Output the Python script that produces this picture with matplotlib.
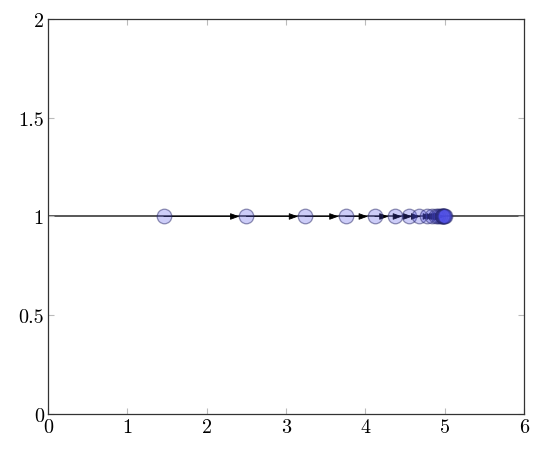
import matplotlib
matplotlib.use("Agg")
import matplotlib.pyplot as plt

plt.rcParams['font.family'] = 'serif'
plt.rcParams['font.serif'] = ['cmr10', 'DejaVu Serif']
plt.rcParams['axes.formatter.use_mathtext'] = True

# iterates of the optimisation (all at y = 1)
x_vals = [1.46, 2.50, 3.24, 3.75, 4.12, 4.38, 4.55, 4.68, 4.78, 4.84,
          4.89, 4.92, 4.94, 4.96, 4.97, 4.98, 4.985, 4.99, 4.995, 5.00]
y_vals = [1.0] * len(x_vals)
line_x = [0, 6]
line_y = [1, 1]
x_ticks = [0, 1, 2, 3, 4, 5, 6]
y_ticks = [0, 0.5, 1, 1.5, 2]
y_labels = ['0', '0.5', '1', '1.5', '2']

fig = plt.figure(figsize=(5.4, 4.52), dpi=100)
ax = fig.add_axes([0.0889, 0.0819, 0.8815, 0.8739])

ax.plot(line_x, line_y, color='#4a4a4a', lw=1.3, zorder=1)

for i in range(len(x_vals) - 1):
    ax.annotate('', xy=(x_vals[i + 1], y_vals[i + 1]), xytext=(x_vals[i], y_vals[i]),
                arrowprops=dict(arrowstyle='-|>,head_length=0.55,head_width=0.2',
                                color='black', lw=0.6, shrinkA=0, shrinkB=5),
                zorder=2)

ax.scatter(x_vals, y_vals, s=110, facecolor=(0.3, 0.3, 0.9, 0.28),
           edgecolor=(0.15, 0.15, 0.4, 0.5), linewidth=0.9, zorder=3)

ax.set_xlim(0, 6)
ax.set_ylim(0, 2)
ax.set_xticks(x_ticks)
ax.set_xticklabels([str(t) for t in x_ticks])
ax.set_yticks(y_ticks)
ax.set_yticklabels(y_labels)
ax.tick_params(direction='in', length=4.5, width=0.8, color='#bbbbbb',
               labelsize=14.5, top=True, right=True, pad=3)
for s in ax.spines.values():
    s.set_color('#333333')
    s.set_linewidth(0.9)

fig.savefig('out.png', dpi=100)
